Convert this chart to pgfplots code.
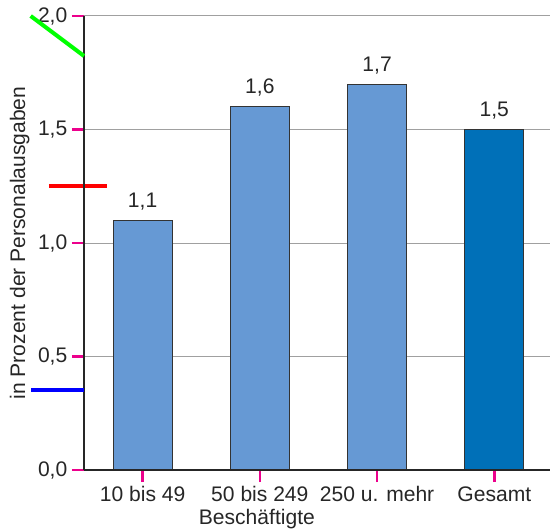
\documentclass[border=0pt]{standalone}
\usepackage{pgfplots}
\pgfplotsset{compat=1.18}
\usepackage{fontspec}
\setmainfont{Liberation Sans}
\definecolor{barlight}{RGB}{102,153,212}
\definecolor{bardark}{RGB}{0,112,184}
\definecolor{gridgray}{RGB}{160,160,160}
\definecolor{axisdark}{RGB}{38,38,38}
\begin{document}
\begin{tikzpicture}
\pgfplotstableread{
x val
0 1.1
1 1.6
2 1.7
}\smalltab
\pgfplotstableread{
x val
3 1.5
}\totaltab
\begin{axis}[
  name=main,
  scale only axis,
  width=349.5pt, height=340.5pt,
  xmin=-0.5, xmax=3.475,
  ymin=0, ymax=2,
  axis lines*=left,
  axis line style={draw=none},
  xtick={0,1,2,3},
  xticklabels={10 bis 49, 50 bis 249, 250 u. mehr, Gesamt},
  ytick={0,0.5,1,1.5,2},
  tick align=outside,
  major tick length=9pt,
  every tick/.style={magenta, line width=2pt},
  ymajorgrids,
  grid style={gridgray, line width=0.75pt},
  /pgf/number format/assume math mode=true,
  tick label style={font=\fontsize{15.8}{18}\selectfont, text=black!85},
  yticklabel style={/pgf/number format/use comma, /pgf/number format/fixed,
    /pgf/number format/fixed zerofill, /pgf/number format/precision=1},
  xlabel={Beschäftigte},
  ylabel={in Prozent der Personalausgaben},
  label style={font=\fontsize{15.8}{18}\selectfont, text=black!85},
  xlabel style={at={(ticklabel cs:0.371)}, yshift=1.5pt},
  ylabel style={yshift=-0.5pt},
  clip=false,
  ybar, bar width=44.25pt, bar shift=0pt,
  nodes near coords,
  nodes near coords style={font=\fontsize{15.8}{18}\selectfont, text=black!85,
    /pgf/number format/use comma, /pgf/number format/fixed,
    /pgf/number format/fixed zerofill, /pgf/number format/precision=1,
    yshift=4pt},
]
\addplot[fill=barlight, draw=black!80, line width=0.8pt] table[x=x, y=val] {\smalltab};
\addplot[fill=bardark, draw=black!80, line width=0.8pt] table[x=x, y=val] {\totaltab};
\draw[line width=3pt, red] (axis cs:-0.8,1.25) -- (axis cs:-0.3,1.25);
\draw[line width=1.1pt, axisdark] (axis cs:-0.5,0) -- (axis cs:3.475,0);
\draw[line width=1.1pt, axisdark] (axis cs:-0.5,0) -- (axis cs:-0.5,2);
\end{axis}
\draw[line width=3pt, blue] (main.south west) ++(0pt,60pt) -- ++(-40pt,0pt);
\draw[line width=3pt, green] ([xshift=-40pt]main.north west) -- ([yshift=-30pt]main.north west);
\pgfresetboundingbox
\path (main.south west) ++(-63pt,-44.25pt) rectangle (main.north east) ++(0pt,12pt);
\end{tikzpicture}
\end{document}
